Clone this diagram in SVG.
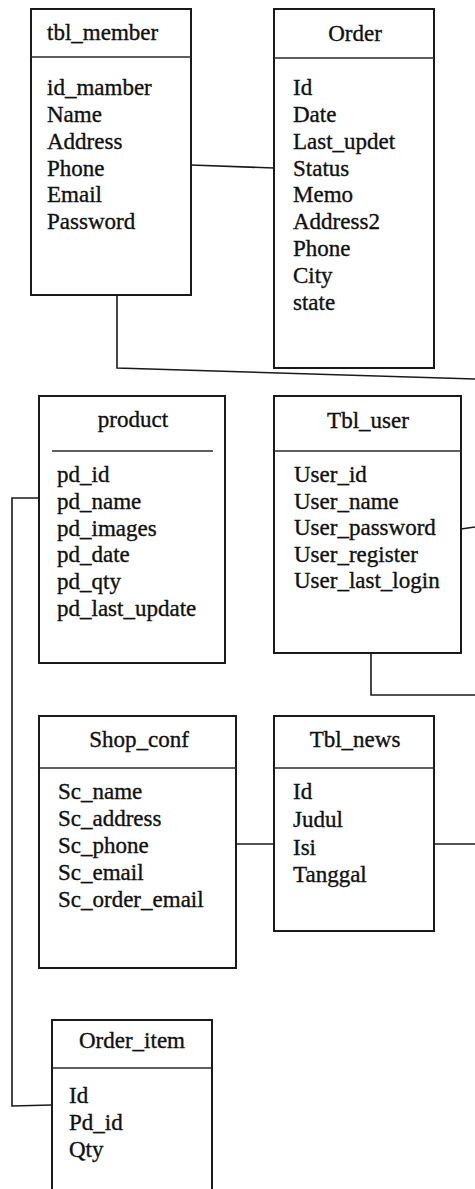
<svg xmlns="http://www.w3.org/2000/svg" width="475" height="1189" viewBox="0 0 475 1189">
  <style>
    .box { fill: #ffffff; stroke: #1a1a1a; stroke-width: 2; }
    .sep { stroke: #2a2a2a; stroke-width: 1.6; fill: none; }
    .link { stroke: #1a1a1a; stroke-width: 1.6; fill: none; }
    text { font-family: "Liberation Serif", "Times New Roman", serif; font-size: 23px; fill: #111111; stroke: #111111; stroke-width: 0.35; }
    .title { text-anchor: middle; }
  </style>
  <rect width="475" height="1189" fill="#ffffff"/>

  <!-- relationship lines -->
  <g id="connectors">
    <polyline class="link" points="191,165 274,168"/>
    <polyline class="link" points="117,295 117,368 475,379"/>
    <polyline class="link" points="39,498 12,498 12,1106 52,1105"/>
    <polyline class="link" points="461,529 475,527"/>
    <polyline class="link" points="371,653 371,695 475,695"/>
    <polyline class="link" points="236,844 274,844"/>
    <polyline class="link" points="434,844 475,844"/>
  </g>

  <g id="tbl_member">
    <rect class="box" x="31" y="9" width="160" height="286"/>
    <line class="sep" x1="31" y1="57" x2="191" y2="57"/>
    <text x="47" y="40">tbl_member</text>
    <text x="47" y="95">id_mamber</text>
    <text x="47" y="122">Name</text>
    <text x="47" y="149">Address</text>
    <text x="47" y="176">Phone</text>
    <text x="47" y="202">Email</text>
    <text x="47" y="229">Password</text>
  </g>

  <g id="order">
    <rect class="box" x="274" y="9" width="160" height="359"/>
    <line class="sep" x1="274" y1="58" x2="434" y2="58"/>
    <text class="title" x="355" y="41">Order</text>
    <text x="293" y="95">Id</text>
    <text x="293" y="122">Date</text>
    <text x="293" y="149">Last_updet</text>
    <text x="293" y="176">Status</text>
    <text x="293" y="202">Memo</text>
    <text x="293" y="229">Address2</text>
    <text x="293" y="256">Phone</text>
    <text x="293" y="283">City</text>
    <text x="293" y="310">state</text>
  </g>

  <g id="product">
    <rect class="box" x="39" y="396" width="186" height="267"/>
    <line class="sep" x1="52" y1="451" x2="213" y2="451"/>
    <text class="title" x="133" y="427">product</text>
    <text x="57" y="482">pd_id</text>
    <text x="57" y="509">pd_name</text>
    <text x="57" y="536">pd_images</text>
    <text x="57" y="562">pd_date</text>
    <text x="57" y="589">pd_qty</text>
    <text x="57" y="616">pd_last_update</text>
  </g>

  <g id="tbl_user">
    <rect class="box" x="274" y="396" width="187" height="257"/>
    <line class="sep" x1="274" y1="451" x2="461" y2="451"/>
    <text class="title" x="368" y="428">Tbl_user</text>
    <text x="294" y="482">User_id</text>
    <text x="294" y="509">User_name</text>
    <text x="294" y="535">User_password</text>
    <text x="294" y="562">User_register</text>
    <text x="294" y="588">User_last_login</text>
  </g>

  <g id="shop_conf">
    <rect class="box" x="39" y="716" width="197" height="252"/>
    <line class="sep" x1="39" y1="768" x2="236" y2="768"/>
    <text class="title" x="139" y="747">Shop_conf</text>
    <text x="58" y="799">Sc_name</text>
    <text x="58" y="826">Sc_address</text>
    <text x="58" y="853">Sc_phone</text>
    <text x="58" y="880">Sc_email</text>
    <text x="58" y="907">Sc_order_email</text>
  </g>

  <g id="tbl_news">
    <rect class="box" x="274" y="716" width="160" height="215"/>
    <line class="sep" x1="274" y1="768" x2="434" y2="768"/>
    <text class="title" x="355" y="747">Tbl_news</text>
    <text x="293" y="799">Id</text>
    <text x="293" y="827">Judul</text>
    <text x="293" y="855">Isi</text>
    <text x="293" y="882">Tanggal</text>
  </g>

  <g id="order_item">
    <rect class="box" x="52" y="1020" width="160" height="180"/>
    <line class="sep" x1="52" y1="1068" x2="212" y2="1068"/>
    <text class="title" x="132" y="1048">Order_item</text>
    <text x="69" y="1103">Id</text>
    <text x="69" y="1130">Pd_id</text>
    <text x="69" y="1157">Qty</text>
  </g>
</svg>
